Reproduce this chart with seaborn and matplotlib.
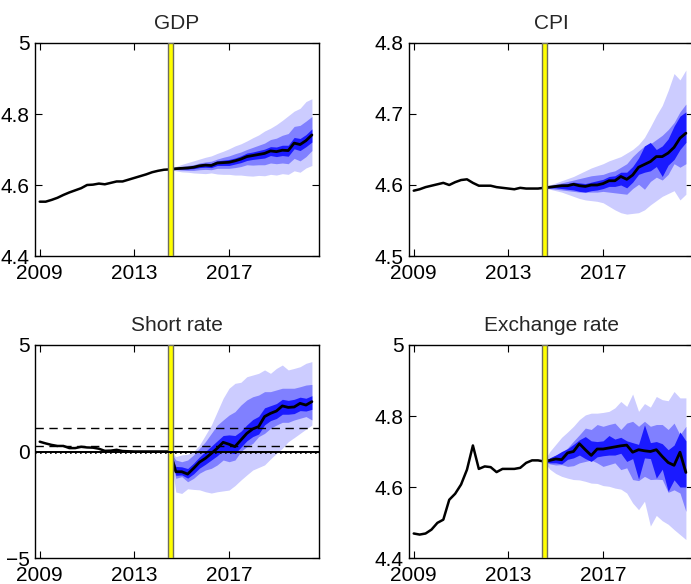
import numpy as np
import pandas as pd
import matplotlib
matplotlib.use("Agg")
import matplotlib.pyplot as plt
import seaborn as sns
from matplotlib.ticker import FuncFormatter

# ---------------- data ----------------
hist_t = np.arange(2009.0, 2014.5 + 0.001, 0.25)      # 23 quarters
fc_t = np.arange(2014.5, 2020.5 + 0.001, 0.25)        # 25 quarters

titles = ["GDP", "CPI", "Short rate", "Exchange rate"]

gdp_hist = [4.553, 4.553, 4.558, 4.564, 4.572, 4.579, 4.585, 4.591, 4.600, 4.601, 4.604, 4.602,
            4.606, 4.610, 4.610, 4.615, 4.620, 4.625, 4.630, 4.636, 4.640, 4.643, 4.644]
gdp_med = [4.644, 4.646, 4.647, 4.648, 4.650, 4.654, 4.656, 4.655, 4.662, 4.663, 4.664, 4.668, 4.673,
           4.680, 4.683, 4.686, 4.689, 4.696, 4.694, 4.698, 4.697, 4.718, 4.714, 4.725, 4.741]
gdp_o_hi = [4.644, 4.652, 4.658, 4.663, 4.668, 4.673, 4.678, 4.682, 4.689, 4.695, 4.702, 4.710, 4.716,
            4.724, 4.733, 4.741, 4.752, 4.760, 4.770, 4.782, 4.795, 4.808, 4.816, 4.835, 4.843]
gdp_o_lo = [4.644, 4.640, 4.637, 4.636, 4.634, 4.633, 4.632, 4.634, 4.631, 4.630, 4.630, 4.628, 4.628,
            4.626, 4.625, 4.627, 4.626, 4.630, 4.628, 4.632, 4.630, 4.640, 4.636, 4.648, 4.655]
gdp_m_hi = [4.644, 4.648, 4.652, 4.655, 4.657, 4.662, 4.665, 4.667, 4.673, 4.678, 4.682, 4.688, 4.693,
            4.700, 4.706, 4.712, 4.718, 4.728, 4.732, 4.740, 4.745, 4.765, 4.768, 4.780, 4.793]
gdp_m_lo = [4.644, 4.643, 4.642, 4.641, 4.641, 4.643, 4.644, 4.643, 4.647, 4.647, 4.647, 4.649, 4.652,
            4.657, 4.656, 4.657, 4.657, 4.662, 4.660, 4.662, 4.660, 4.675, 4.668, 4.680, 4.697]
gdp_i_hi = [4.644, 4.647, 4.649, 4.651, 4.653, 4.658, 4.661, 4.661, 4.668, 4.670, 4.672, 4.676, 4.682,
            4.690, 4.693, 4.697, 4.701, 4.708, 4.707, 4.712, 4.712, 4.734, 4.731, 4.742, 4.758]
gdp_i_lo = [4.644, 4.645, 4.645, 4.645, 4.646, 4.649, 4.650, 4.649, 4.655, 4.655, 4.655, 4.659, 4.663,
            4.669, 4.672, 4.674, 4.676, 4.683, 4.680, 4.683, 4.681, 4.702, 4.697, 4.708, 4.721]

cpi_hist = [4.592, 4.594, 4.597, 4.599, 4.601, 4.603, 4.600, 4.604, 4.607, 4.608, 4.603, 4.599,
            4.599, 4.599, 4.597, 4.596, 4.595, 4.594, 4.596, 4.595, 4.595, 4.595, 4.596]
cpi_med = [4.596, 4.597, 4.598, 4.599, 4.599, 4.601, 4.599, 4.598, 4.600, 4.600, 4.602, 4.606, 4.606,
           4.612, 4.608, 4.614, 4.625, 4.629, 4.633, 4.640, 4.640, 4.645, 4.653, 4.666, 4.673]
cpi_o_hi = [4.596, 4.600, 4.603, 4.606, 4.609, 4.612, 4.616, 4.620, 4.624, 4.627, 4.630, 4.634, 4.637,
            4.640, 4.645, 4.650, 4.657, 4.667, 4.682, 4.698, 4.712, 4.733, 4.757, 4.748, 4.762]
cpi_o_lo = [4.596, 4.594, 4.592, 4.590, 4.587, 4.584, 4.581, 4.579, 4.578, 4.577, 4.575, 4.570, 4.565,
            4.561, 4.559, 4.560, 4.561, 4.565, 4.572, 4.578, 4.584, 4.588, 4.592, 4.579, 4.587]
cpi_m_hi = [4.596, 4.599, 4.601, 4.603, 4.605, 4.607, 4.609, 4.611, 4.613, 4.614, 4.615, 4.618, 4.620,
            4.625, 4.630, 4.640, 4.648, 4.655, 4.658, 4.664, 4.670, 4.678, 4.688, 4.703, 4.714]
cpi_m_lo = [4.596, 4.595, 4.594, 4.593, 4.592, 4.591, 4.590, 4.590, 4.590, 4.590, 4.591, 4.590, 4.589,
            4.588, 4.587, 4.595, 4.601, 4.594, 4.605, 4.611, 4.607, 4.615, 4.630, 4.625, 4.630]
cpi_i_hi = [4.596, 4.598, 4.600, 4.601, 4.602, 4.604, 4.603, 4.602, 4.604, 4.606, 4.608, 4.612, 4.613,
            4.618, 4.618, 4.626, 4.638, 4.655, 4.660, 4.650, 4.655, 4.665, 4.683, 4.697, 4.703]
cpi_i_lo = [4.596, 4.596, 4.596, 4.595, 4.594, 4.593, 4.591, 4.590, 4.592, 4.593, 4.595, 4.598, 4.598,
            4.600, 4.596, 4.604, 4.615, 4.618, 4.620, 4.626, 4.612, 4.628, 4.636, 4.650, 4.660]

sr_hist = [0.46, 0.38, 0.31, 0.26, 0.26, 0.16, 0.16, 0.22, 0.19, 0.18, 0.13, 0.03,
           0.04, 0.08, 0.02, 0.01, 0.0, 0.0, 0.0, 0.0, 0.0, 0.0, 0.0]
sr_med = [0.0, -0.95, -0.95, -1.06, -0.79, -0.50, -0.32, -0.09, 0.15, 0.43, 0.34, 0.23, 0.54,
          0.85, 1.06, 1.17, 1.64, 1.79, 1.90, 2.14, 2.07, 2.09, 2.26, 2.18, 2.34]
sr_o_hi = [0.0, -0.24, -0.16, -0.13, 0.0, 0.30, 0.77, 1.24, 1.87, 2.50, 2.97, 3.20, 3.25,
           3.51, 3.59, 3.67, 3.83, 3.67, 3.90, 4.06, 3.83, 3.90, 3.98, 4.14, 4.22]
sr_o_lo = [0.0, -1.90, -1.97, -1.75, -1.78, -1.80, -1.89, -1.95, -1.89, -1.85, -1.81, -1.60, -1.34,
           -1.10, -0.87, -0.75, -0.63, -0.35, -0.09, 0.15, 0.46, 0.65, 0.85, 1.05, 1.24]
sr_m_hi = [0.0, -0.40, -0.48, -0.40, -0.16, 0.15, 0.46, 0.85, 1.24, 1.48, 1.71, 1.87, 2.18,
           2.42, 2.57, 2.65, 2.81, 2.81, 2.89, 2.97, 2.97, 2.97, 3.04, 3.12, 3.15]
sr_m_lo = [0.0, -1.26, -1.18, -1.42, -1.26, -1.02, -0.87, -0.79, -0.63, -0.40, -0.48, -0.40, 0.0,
           0.23, 0.38, 0.70, 0.85, 1.09, 1.24, 1.37, 1.37, 1.48, 1.56, 1.64, 1.48]
sr_i_hi = [0.0, -0.70, -0.72, -0.80, -0.55, -0.25, 0.0, 0.25, 0.50, 0.75, 0.78, 0.75, 0.95,
           1.25, 1.50, 1.65, 2.05, 2.15, 2.25, 2.45, 2.40, 2.45, 2.55, 2.50, 2.62]
sr_i_lo = [0.0, -1.12, -1.10, -1.25, -1.05, -0.78, -0.60, -0.40, -0.20, 0.05, -0.05, -0.10, 0.20,
           0.50, 0.70, 0.82, 1.25, 1.45, 1.55, 1.75, 1.75, 1.78, 1.92, 1.90, 1.98]
sr_bounds = [1.12, 0.27]

er_hist = [4.469, 4.466, 4.469, 4.480, 4.499, 4.508, 4.564, 4.581, 4.607, 4.649, 4.717, 4.651,
           4.658, 4.656, 4.642, 4.651, 4.651, 4.651, 4.654, 4.668, 4.675, 4.675, 4.672]
er_med = [4.672, 4.675, 4.679, 4.677, 4.696, 4.700, 4.722, 4.705, 4.689, 4.707, 4.707, 4.710, 4.713,
          4.716, 4.718, 4.698, 4.705, 4.702, 4.700, 4.705, 4.686, 4.669, 4.661, 4.698, 4.641]
er_o_hi = [4.672, 4.700, 4.720, 4.740, 4.755, 4.771, 4.790, 4.803, 4.808, 4.808, 4.810, 4.813, 4.823,
           4.841, 4.827, 4.862, 4.813, 4.835, 4.825, 4.855, 4.846, 4.843, 4.869, 4.851, 4.851]
er_o_lo = [4.672, 4.650, 4.638, 4.630, 4.625, 4.621, 4.620, 4.616, 4.611, 4.610, 4.604, 4.602, 4.597,
           4.594, 4.583, 4.555, 4.536, 4.560, 4.490, 4.520, 4.505, 4.495, 4.480, 4.466, 4.452]
er_m_hi = [4.672, 4.682, 4.690, 4.696, 4.710, 4.729, 4.747, 4.766, 4.762, 4.776, 4.771, 4.776, 4.780,
           4.762, 4.780, 4.785, 4.771, 4.785, 4.771, 4.776, 4.776, 4.762, 4.780, 4.747, 4.771]
er_m_lo = [4.672, 4.665, 4.662, 4.663, 4.658, 4.660, 4.668, 4.672, 4.676, 4.668, 4.658, 4.663, 4.668,
           4.649, 4.654, 4.621, 4.618, 4.630, 4.621, 4.622, 4.621, 4.585, 4.592, 4.583, 4.531]
er_i_hi = [4.672, 4.682, 4.690, 4.700, 4.708, 4.720, 4.733, 4.742, 4.730, 4.728, 4.730, 4.745, 4.735,
           4.740, 4.730, 4.725, 4.720, 4.775, 4.725, 4.728, 4.722, 4.705, 4.718, 4.755, 4.730]
er_i_lo = [4.672, 4.668, 4.668, 4.665, 4.678, 4.682, 4.690, 4.680, 4.672, 4.685, 4.688, 4.690, 4.690,
           4.695, 4.672, 4.680, 4.622, 4.682, 4.680, 4.625, 4.650, 4.588, 4.620, 4.600, 4.600]

ylims = [(4.4, 5.0), (4.5, 4.8), (-5, 5), (4.4, 5.0)]
yticks = [[4.4, 4.6, 4.8, 5.0], [4.5, 4.6, 4.7, 4.8], [-5, 0, 5], [4.4, 4.6, 4.8, 5.0]]
xticks = [2009, 2013, 2017]
bar_span = (2014.4, 2014.65)

panels = [
    (gdp_hist, gdp_med, gdp_o_lo, gdp_o_hi, gdp_m_lo, gdp_m_hi, gdp_i_lo, gdp_i_hi),
    (cpi_hist, cpi_med, cpi_o_lo, cpi_o_hi, cpi_m_lo, cpi_m_hi, cpi_i_lo, cpi_i_hi),
    (sr_hist, sr_med, sr_o_lo, sr_o_hi, sr_m_lo, sr_m_hi, sr_i_lo, sr_i_hi),
    (er_hist, er_med, er_o_lo, er_o_hi, er_m_lo, er_m_hi, er_i_lo, er_i_hi),
]

band_colors = ["#ccccff", "#8080ff", "#1a1aff"]

# ---------------- plotting ----------------
sns.set_style("ticks")
plt.rcParams["font.family"] = ["Liberation Sans", "DejaVu Sans"]
plt.rcParams["axes.unicode_minus"] = True

W, H = 691, 584
fig = plt.figure(figsize=(W / 100, H / 100), dpi=100)

ax_w, ax_h = 284, 213
lefts = [35, 409, 35, 409]
tops = [43, 43, 345, 345]

for i, (title, data) in enumerate(zip(titles, panels)):
    hist, med, olo, ohi, mlo, mhi, ilo, ihi = data
    ax = fig.add_axes([lefts[i] / W, 1 - (tops[i] + ax_h) / H, ax_w / W, ax_h / H])
    df_h = pd.DataFrame({"t": hist_t, "v": hist})
    df_f = pd.DataFrame({"t": fc_t, "med": med, "olo": olo, "ohi": ohi,
                         "mlo": mlo, "mhi": mhi, "ilo": ilo, "ihi": ihi})
    ax.fill_between(df_f["t"], df_f["olo"], df_f["ohi"], color=band_colors[0], lw=0, zorder=1)
    ax.fill_between(df_f["t"], df_f["mlo"], df_f["mhi"], color=band_colors[1], lw=0, zorder=2)
    ax.fill_between(df_f["t"], df_f["ilo"], df_f["ihi"], color=band_colors[2], lw=0, zorder=3)
    sns.lineplot(data=df_h, x="t", y="v", ax=ax, color="black", lw=1.8, zorder=4)
    sns.lineplot(data=df_f, x="t", y="med", ax=ax, color="black", lw=2.0, zorder=4)
    ax.axvspan(*bar_span, facecolor="yellow", edgecolor="#6e6e5a", lw=1.0, zorder=5)
    if title == "Short rate":
        ax.axhline(0, color="black", lw=1.4, zorder=6)
        ax.axhline(-0.08, color="black", lw=1.2, ls=(0, (1, 2)), zorder=6)
        for b in sr_bounds:
            ax.axhline(b, color="black", lw=1.0, ls=(0, (6, 4)), zorder=6)
    ax.set_xlim(2008.8, 2020.8)
    ax.set_ylim(*ylims[i])
    ax.set_xticks(xticks)
    ax.set_yticks(yticks[i])
    ax.yaxis.set_major_formatter(FuncFormatter(lambda v, p: ("%g" % v).replace("-", "\u2212")))
    ax.set_xlabel("")
    ax.set_ylabel("")
    ax.set_title(title, fontsize=15, pad=10)
    ax.tick_params(direction="in", length=5, width=0.8, labelsize=15, top=True, right=True,
                   color="black", labelcolor="black")
    ax.tick_params(axis="x", pad=6)
    ax.tick_params(axis="y", pad=4)
    for s in ax.spines.values():
        s.set_visible(True)
        s.set_color("black")
        s.set_linewidth(1.0)
    ax.grid(False)
    ax.set_facecolor("white")

fig.savefig("out.png", dpi=100, facecolor="white")
